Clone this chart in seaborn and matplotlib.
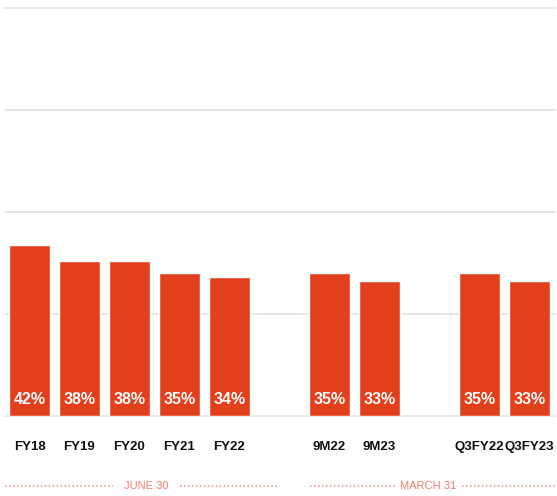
import matplotlib
matplotlib.use("Agg")
import matplotlib.pyplot as plt
import seaborn as sns
import pandas as pd

categories = ["FY18", "FY19", "FY20", "FY21", "FY22", "9M22", "9M23", "Q3FY22", "Q3FY23"]
values = [42, 38, 38, 35, 34, 35, 33, 35, 33]
order = ["FY18", "FY19", "FY20", "FY21", "FY22", " ", "9M22", "9M23", "  ", "Q3FY22", "Q3FY23"]
groups = ["JUNE 30", "MARCH 31"]
yticks = [0, 25, 50, 75, 100]

# layout of group captions (axis x units): dots-left start/end, text centre, dots-right start/end
group_layout = [(-0.49, 1.67, 2.33, 3.01, 4.95), (5.61, 7.3, 7.97, 8.64, 10.5)]

sns.set_theme(style="white")
plt.rcParams["font.family"] = ["Liberation Sans", "DejaVu Sans"]

bar_color = "#E2401C"
group_color = "#F07F70"
df = pd.DataFrame({"cat": categories, "val": values})

fig = plt.figure(figsize=(5.57, 4.96), dpi=100)
ax = fig.add_axes([4.5 / 557, 80 / 496, 550 / 557, 408 / 496])
sns.barplot(data=df, x="cat", y="val", order=order, color=bar_color,
            width=0.82, saturation=1, ax=ax)
ax.set_ylim(0, 100)
ax.set_xlim(-0.5, len(order) - 0.5)
ax.set_yticks(yticks)
for t in yticks:
    ax.axhline(t, color="#e4e4e4", lw=1.3, zorder=0, clip_on=False)
for s in ax.spines.values():
    s.set_visible(False)
ax.set_yticklabels([])
ax.tick_params(axis="y", length=0)
ax.tick_params(axis="x", length=0, pad=18)
ax.set_xlabel("")
ax.set_ylabel("")
for lbl in ax.get_xticklabels():
    lbl.set_fontsize(9.5)
    lbl.set_fontweight("bold")
    lbl.set_color("#111111")

pos = {c: i for i, c in enumerate(order)}
for c, v in zip(categories, values):
    ax.text(pos[c], 4, f"{v}%", ha="center", va="center", color="white",
            fontsize=11.5, fontweight="bold")

# group captions with dotted lines
trans = ax.get_xaxis_transform()
yg = -0.172
for g, (a0, a1, xc, b0, b1) in zip(groups, group_layout):
    ax.text(xc, yg, g, ha="center", va="center", color=group_color,
            fontsize=8, transform=trans, clip_on=False)
    for s0, s1 in ((a0, a1), (b0, b1)):
        ax.plot([s0, s1], [yg, yg], transform=trans, clip_on=False,
                color=group_color, lw=1.1, ls=(0, (1, 1.6)), alpha=0.85)

fig.savefig("out.png", dpi=100)
